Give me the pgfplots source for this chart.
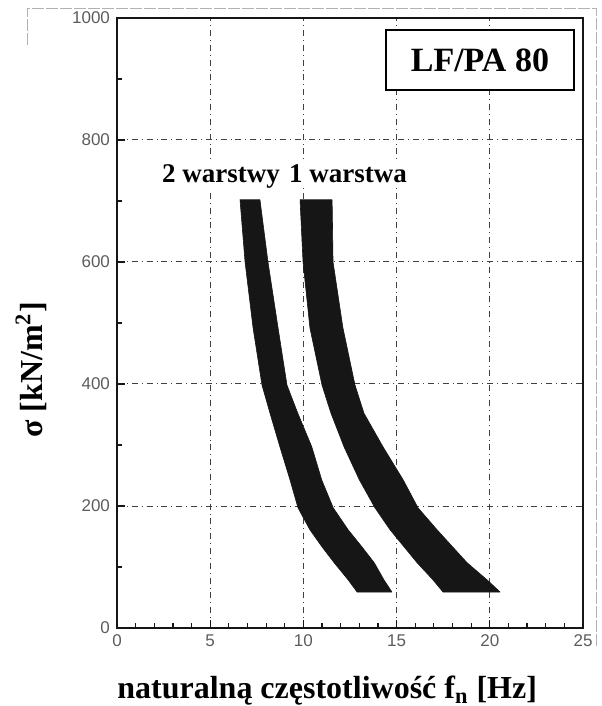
\documentclass[border=0pt]{standalone}
\usepackage{fontspec}
\setmainfont{Liberation Serif}
\setsansfont{Liberation Sans}
\usepackage{pgfplots}
\usepackage{pgfplotstable}
\pgfplotsset{compat=1.18}
\definecolor{scanInk}{HTML}{161616}
\definecolor{gridInk}{HTML}{404040}
\definecolor{tickInk}{HTML}{5C5C5C}

% band outlines: left edge top->bottom, right edge bottom->top
\pgfplotstableread{
x y
6.60 702
6.87 600
7.30 492
7.78 398
8.21 352
8.74 297
9.28 243
9.71 197
10.35 161
11.00 133
11.65 107
12.40 79
12.88 59
14.75 59
14.32 79
13.80 107
13.14 133
12.40 161
11.60 197
10.98 243
10.45 297
9.70 352
9.12 398
8.64 492
8.10 600
7.67 702
}\dwie
\pgfplotstableread{
x y
9.82 702
9.98 600
10.35 492
11.00 398
11.48 352
12.18 297
13.00 243
13.84 197
14.65 161
16.10 107
16.95 79
17.49 59
20.55 59
19.85 79
18.78 107
17.17 161
16.15 197
15.35 243
14.27 297
13.25 352
12.77 398
12.12 492
11.59 600
11.54 702
}\jedna

\begin{document}
\begin{tikzpicture}
\begin{axis}[
  scale only axis, width=233pt, height=305pt,
  xmin=0, xmax=25, ymin=0, ymax=1000,
  xtick={0,5,...,25}, ytick={0,200,...,1000},
  minor x tick num=4, minor y tick num=1,
  tick pos=left, tick align=inside,
  major tick length=4pt, minor tick length=2.5pt,
  grid=major, grid style={gridInk, dash dot, line width=0.5pt},
  axis line style={scanInk, line width=0.9pt},
  tick style={scanInk, line width=0.6pt},
  ticklabel style={font=\sffamily\fontsize{8.5}{9}\selectfont, text=tickInk},
  /pgf/number format/assume math mode=true,
  /pgf/number format/1000 sep={},
  clip=false]

  \addplot[fill=scanInk, draw=scanInk, line width=0.3pt, line join=round] table {\dwie} -- cycle;
  \addplot[fill=scanInk, draw=scanInk, line width=0.3pt, line join=round] table {\jedna} -- cycle;

  \node[fill=white, anchor=base, inner sep=2pt,
        font=\bfseries\fontsize{13.5}{15}\selectfont] at (axis cs:5.58,731) {2 warstwy};
  \node[fill=white, anchor=base, inner sep=2pt,
        font=\bfseries\fontsize{13.5}{15}\selectfont] at (axis cs:12.39,731) {1 warstwa};
  \node[draw=black, fill=white, line width=1pt, minimum width=94pt, minimum height=30pt,
        font=\bfseries\fontsize{17}{19}\selectfont] at (axis cs:19.47,931) {LF/PA 80};

  \node[anchor=base, font=\bfseries\fontsize{16}{18}\selectfont]
    at (axis description cs:0.451,-0.116) {naturalną częstotliwość f\textsubscript{n} [Hz]};
  \node[anchor=base, rotate=90, font=\bfseries\fontsize{16}{18}\selectfont]
    at (axis description cs:-0.159,0.423) {σ [kN/m\textsuperscript{2}]};

  % faint outer frame of the scanned page
  \draw[gray!60, line width=0.5pt, dash pattern=on 6pt off 1pt]
    (axis description cs:-0.193,0.956) -- (axis description cs:-0.193,1.016)
    -- (axis description cs:1.030,1.016) -- (axis description cs:1.030,-0.031);
\end{axis}
\pgfresetboundingbox
\path (current axis.south west) ++(-58.5pt,-39pt) rectangle ++(300.5pt,353pt);
\end{tikzpicture}
\end{document}
